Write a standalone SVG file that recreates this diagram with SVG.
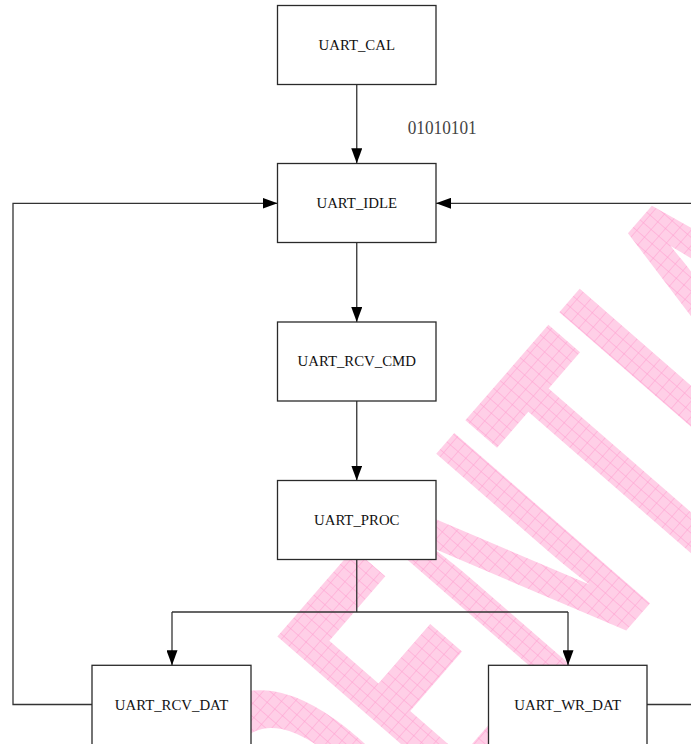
<svg xmlns="http://www.w3.org/2000/svg" width="691" height="744" viewBox="0 0 691 744">
<style>
.box{fill:#fff;stroke:#2a2a2a;stroke-width:1.3}
.lbl{font-family:"Liberation Serif","Times New Roman",serif;font-size:14.8px;fill:#111;text-anchor:middle}
.con{fill:none;stroke:#333;stroke-width:1.3}
.wm{font-family:"Liberation Sans",Arial,sans-serif;font-weight:bold;font-size:377px}
</style>
<defs>
<marker id="arr" markerUnits="userSpaceOnUse" markerWidth="15" markerHeight="11" refX="15" refY="5.5" orient="auto">
<path d="M0,0 L15,5.5 L0,11 z" fill="#000"/>
</marker>
<pattern id="hatch" patternUnits="userSpaceOnUse" width="17.8" height="10.2">
<rect width="17.8" height="10.2" fill="#FFCFE7"/>
<path d="M0,0 V10.2" stroke="#FF9FD0" stroke-width="1.8"/>
<path d="M0,0 H17.8" stroke="#FF9FD0" stroke-width="1"/>
</pattern>
</defs>
<g id="watermark">
<text class="wm" transform="translate(-76.7,1439.2) rotate(-49) scale(0.57,1)" fill="url(#hatch)">CONFIDENTIAL</text>
</g>
<g id="connectors">
<path class="con" d="M356.75,84.5 V163.3" marker-end="url(#arr)"/>
<path class="con" d="M356.75,242.5 V322" marker-end="url(#arr)"/>
<path class="con" d="M356.75,401 V480.5" marker-end="url(#arr)"/>
<path class="con" d="M356.75,559.5 V612 M172,612 H568"/>
<path class="con" d="M172,612 V665.3" marker-end="url(#arr)"/>
<path class="con" d="M568,612 V665.3" marker-end="url(#arr)"/>
<path class="con" d="M92,704.5 H13 V203.3 H277.5" marker-end="url(#arr)"/>
<path class="con" d="M647,704.5 H720 V203.3 H436" marker-end="url(#arr)"/>
</g>
<text x="407.7" y="133.5" font-family="Liberation Serif, serif" font-size="18" textLength="69" lengthAdjust="spacingAndGlyphs" fill="#444">01010101</text>
<g id="uart_cal">
<rect class="box" x="277.5" y="5.5" width="158.5" height="79"/>
<text class="lbl" x="356.75" y="49.5">UART_CAL</text>
</g>
<g id="uart_idle">
<rect class="box" x="277.5" y="163.5" width="158.5" height="79"/>
<text class="lbl" x="356.75" y="207.8">UART_IDLE</text>
</g>
<g id="uart_rcv_cmd">
<rect class="box" x="277.5" y="322" width="158.5" height="79"/>
<text class="lbl" x="356.75" y="366.3">UART_RCV_CMD</text>
</g>
<g id="uart_proc">
<rect class="box" x="277.5" y="480.5" width="158.5" height="79"/>
<text class="lbl" x="356.75" y="524.8">UART_PROC</text>
</g>
<g id="uart_rcv_dat">
<rect class="box" x="92" y="665.3" width="159" height="90"/>
<text class="lbl" x="171.5" y="709.8">UART_RCV_DAT</text>
</g>
<g id="uart_wr_dat">
<rect class="box" x="488.5" y="665.3" width="158.5" height="90"/>
<text class="lbl" x="567.75" y="709.8">UART_WR_DAT</text>
</g>
</svg>
